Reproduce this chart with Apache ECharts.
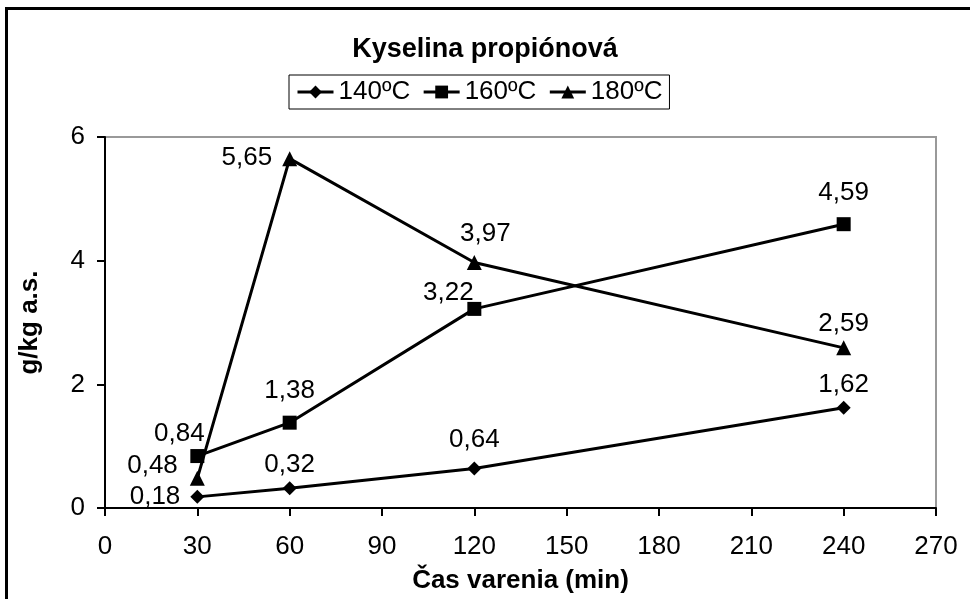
<!DOCTYPE html>
<html>
<head>
<meta charset="utf-8">
<script src="https://cdn.jsdelivr.net/npm/echarts@6/dist/echarts.min.js"></script>
<style>html,body{margin:0;padding:0;background:#fff}#c{width:970px;height:599px}</style>
</head>
<body>
<div id="c"></div>
<script>
const titleText = 'Kyselina propiónová';
const xName = 'Čas varenia (min)';
const yName = 'g/kg a.s.';
const times = [30, 60, 120, 240];
const seriesNames = ['140ºC', '160ºC', '180ºC'];
const s140 = [0.18, 0.32, 0.64, 1.62];
const s160 = [0.84, 1.38, 3.22, 4.59];
const s180 = [0.48, 5.65, 3.97, 2.59];

const FONT = 'Liberation Sans, Arial, sans-serif';
const FS = 26;

// label placement per point (style only)
const labelCfg = {
  '140ºC': [{position:'left', distance:10, offset:[0,0]}, {position:'top', distance:3, offset:[0,0]}, {position:'top', distance:9, offset:[0,0]}, {position:'top', distance:3, offset:[0,0]}],
  '160ºC': [{position:'top', distance:2, offset:[-18,0]}, {position:'top', distance:12, offset:[0,0]}, {position:'top', distance:-4, offset:[-26,0]}, {position:'top', distance:11, offset:[0,0]}],
  '180ºC': [{position:'left', distance:12, offset:[0,-12]}, {position:'left', distance:10, offset:[0,-1]}, {position:'top', distance:8, offset:[11,0]}, {position:'top', distance:4, offset:[0,0]}]
};
const symbols = {'140ºC':['diamond',14], '160ºC':['rect',14], '180ºC':['triangle',15]};

function fmt(v){ return v.toFixed(2).replace('.', ','); }

function build(name, vals){
  return {
    name: name,
    type: 'line',
    symbol: symbols[name][0],
    symbolSize: symbols[name][1],
    lineStyle: {color:'#000', width:3},
    itemStyle: {color:'#000'},
    z: 3,
    data: vals.map((v,i)=>({
      value:[times[i], v],
      label:{show:true, position:labelCfg[name][i].position, distance:labelCfg[name][i].distance, offset:labelCfg[name][i].offset,
        formatter: ()=>fmt(v), color:'#000', fontFamily:FONT, fontSize:FS}
    }))
  };
}

const chart = echarts.init(document.getElementById('c'), null, {renderer:'canvas'});
chart.setOption({
  animation:false,
  backgroundColor:'#fff',
  title:{text:titleText, left:'center', top:31, textStyle:{fontFamily:FONT, fontSize:27, fontWeight:'bold', color:'#000'}},
  legend:{
    data: seriesNames,
    left:289, top:75,
    orient:'horizontal',
    borderColor:'#000', borderWidth:1,
    padding:[4,7,4,7],
    itemWidth:36, itemHeight:16, itemGap:12,
    lineStyle:{width:3, color:'#000'},
    textStyle:{fontFamily:FONT, fontSize:FS, color:'#000'}
  },
  grid:{left:105, right:34, top:137, bottom:91, show:true, borderColor:'#999', borderWidth:2, backgroundColor:'transparent'},
  xAxis:{
    type:'value', min:0, max:270, interval:30,
    name:xName, nameLocation:'middle', nameGap:60,
    nameTextStyle:{fontFamily:FONT, fontSize:26, fontWeight:'bold', color:'#000'},
    axisLine:{lineStyle:{color:'#000', width:2}},
    axisTick:{show:true, length:8, lineStyle:{color:'#000', width:2}},
    axisLabel:{fontFamily:FONT, fontSize:FS, color:'#000', margin:26},
    splitLine:{show:false}
  },
  yAxis:{
    type:'value', min:0, max:6, interval:2,
    name:yName, nameLocation:'middle', nameGap:62, nameRotate:90,
    nameTextStyle:{fontFamily:FONT, fontSize:26, fontWeight:'bold', color:'#000'},
    axisLine:{show:true, lineStyle:{color:'#000', width:2}},
    axisTick:{show:true, length:8, lineStyle:{color:'#000', width:2}},
    axisLabel:{fontFamily:FONT, fontSize:FS, color:'#000', margin:20},
    splitLine:{show:false}
  },
  graphic:[
    {type:'line', shape:{x1:6.5, y1:8, x2:6.5, y2:599}, style:{stroke:'#000', lineWidth:3}},
    {type:'line', shape:{x1:5, y1:8.5, x2:970, y2:8.5}, style:{stroke:'#000', lineWidth:3}}
  ],
  series:[build('140ºC', s140), build('160ºC', s160), build('180ºC', s180)]
});
</script>
</body>
</html>
